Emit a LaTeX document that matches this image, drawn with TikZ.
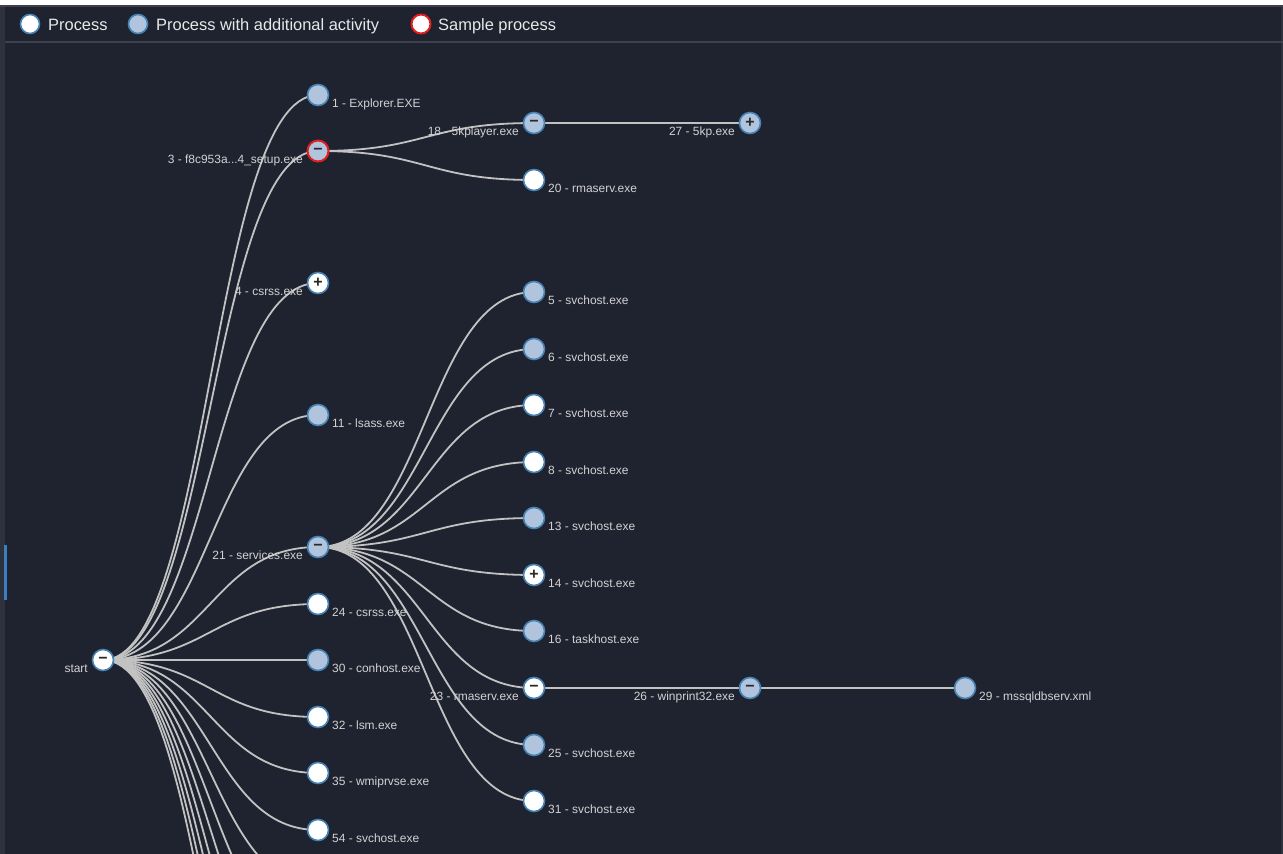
\documentclass[tikz,border=0pt]{standalone}
\usepackage{fontspec}
\setmainfont{Liberation Sans}
\usetikzlibrary{calc}
\definecolor{panel}{HTML}{1F2330}
\definecolor{leftstrip}{HTML}{2D323C}
\definecolor{sepline}{HTML}{3C414C}
\definecolor{edgecol}{HTML}{C2C2C2}
\definecolor{steel}{HTML}{4682B4}
\definecolor{lsteel}{HTML}{B0C4DE}
\definecolor{samplered}{HTML}{E02020}
\definecolor{lbl}{HTML}{D2D2D2}
\definecolor{legtext}{HTML}{E8E8E8}
\definecolor{glyph}{HTML}{2A2A2A}
\definecolor{scrollblue}{HTML}{3A7FC0}
\pgfdeclarelayer{back}
\pgfdeclarelayer{edges}
\pgfsetlayers{back,edges,main}
\newcommand\treeedge[2]{\draw[edge] let \p1=(#1), \p2=(#2) in (\p1) .. controls ({(\x1+\x2)/2},\y1) and ({(\x1+\x2)/2},\y2) .. (\p2);}
\begin{document}
\begin{tikzpicture}[x=1bp,y=-1bp,
  proc/.style={circle, draw=steel, line width=1.6bp, fill=white, minimum size=21bp, inner sep=0pt,
    text=glyph, font=\bfseries\fontsize{16}{16}\selectfont},
  procA/.style={proc, fill=lsteel},
  sample/.style={proc, fill=lsteel, draw=samplered, line width=2bp},
  edge/.style={draw=edgecol, line width=1.8bp},
  lblR/.style={anchor=base west, text=lbl, font=\fontsize{12}{12}\selectfont, inner sep=0pt},
  lblL/.style={anchor=base east, text=lbl, font=\fontsize{12}{12}\selectfont, inner sep=0pt},
  legtxt/.style={anchor=base west, text=legtext, font=\fontsize{16.5}{18}\selectfont, inner sep=0pt}]
\useasboundingbox (0,0) rectangle (1283,854);
\begin{pgfonlayer}{back}
  \fill[white] (0,0) rectangle (1283,854);
  \fill[panel] (0,5) rectangle (1283,854);
  \fill[leftstrip] (0,5) rectangle (5,854);
  \fill[leftstrip] (1281,5) rectangle (1283,854);
  \draw[sepline, line width=2bp] (0,6) -- (1283,6);
  \draw[sepline, line width=2bp] (5,41.5) -- (1283,41.5);
  \fill[scrollblue] (4,545) rectangle (6.5,600);
\end{pgfonlayer}

% legend
\node[proc, minimum size=19bp] (leg1) at (30,24) {};
\node[legtxt] (legt1) at (48,30) {Process};
\node[procA, minimum size=19bp] (leg2) at (138,24) {};
\node[legtxt] (legt2) at (156,30) {Process with additional activity};
\node[proc, draw=samplered, line width=2bp, minimum size=19bp] (leg3) at (421,24) {};
\node[legtxt] (legt3) at (438,30) {Sample process};

% level 0
\node[proc] (start) at (103,660) {−};
% level 1
\node[procA] (n1) at (318,95) {};
\node[sample] (n3) at (318,151) {−};
\node[proc] (n4) at (318,283) {+};
\node[procA] (n11) at (318,415) {};
\node[procA] (n21) at (318,547) {−};
\node[proc] (n24) at (318,604) {};
\node[procA] (n30) at (318,660) {};
\node[proc] (n32) at (318,717) {};
\node[proc] (n35) at (318,773) {};
\node[proc] (n54) at (318,830) {};
\coordinate (h1) at (318,886);
\coordinate (h2) at (318,943);
\coordinate (h3) at (318,999);
\coordinate (h4) at (318,1056);
\coordinate (h5) at (318,1112);
\coordinate (h6) at (318,1169);
\coordinate (h7) at (318,1225);
% level 2
\node[procA] (n18) at (534,123) {−};
\node[proc] (n20) at (534,180) {};
\node[procA] (n5) at (534,292) {};
\node[procA] (n6) at (534,349) {};
\node[proc] (n7) at (534,405) {};
\node[proc] (n8) at (534,462) {};
\node[procA] (n13) at (534,518) {};
\node[proc] (n14) at (534,575) {+};
\node[procA] (n16) at (534,631) {};
\node[proc] (n23) at (534,688) {−};
\node[procA] (n25) at (534,745) {};
\node[proc] (n31) at (534,801) {};
% level 3
\node[procA] (n27) at (750,123) {+};
\node[procA] (n26) at (750,688) {−};
% level 4
\node[procA] (n29) at (965,688) {};

% labels
\node[lblL] (tstart) at ($(start)+(-15,12)$) {start};
\node[lblR] (t1) at ($(n1)+(14,12)$) {1 - Explorer.EXE};
\node[lblL] (t3) at ($(n3)+(-15,12)$) {3 - f8c953a...4\_setup.exe};
\node[lblL] (t4) at ($(n4)+(-15,12)$) {4 - csrss.exe};
\node[lblR] (t11) at ($(n11)+(14,12)$) {11 - lsass.exe};
\node[lblL] (t21) at ($(n21)+(-15,12)$) {21 - services.exe};
\node[lblR] (t24) at ($(n24)+(14,12)$) {24 - csrss.exe};
\node[lblR] (t30) at ($(n30)+(14,12)$) {30 - conhost.exe};
\node[lblR] (t32) at ($(n32)+(14,12)$) {32 - lsm.exe};
\node[lblR] (t35) at ($(n35)+(14,12)$) {35 - wmiprvse.exe};
\node[lblR] (t54) at ($(n54)+(14,12)$) {54 - svchost.exe};
\node[lblL] (t18) at ($(n18)+(-15,12)$) {18 - 5kplayer.exe};
\node[lblR] (t20) at ($(n20)+(14,12)$) {20 - rmaserv.exe};
\node[lblR] (t5) at ($(n5)+(14,12)$) {5 - svchost.exe};
\node[lblR] (t6) at ($(n6)+(14,12)$) {6 - svchost.exe};
\node[lblR] (t7) at ($(n7)+(14,12)$) {7 - svchost.exe};
\node[lblR] (t8) at ($(n8)+(14,12)$) {8 - svchost.exe};
\node[lblR] (t13) at ($(n13)+(14,12)$) {13 - svchost.exe};
\node[lblR] (t14) at ($(n14)+(14,12)$) {14 - svchost.exe};
\node[lblR] (t16) at ($(n16)+(14,12)$) {16 - taskhost.exe};
\node[lblL] (t23) at ($(n23)+(-15,12)$) {23 - rmaserv.exe};
\node[lblR] (t25) at ($(n25)+(14,12)$) {25 - svchost.exe};
\node[lblR] (t31) at ($(n31)+(14,12)$) {31 - svchost.exe};
\node[lblL] (t27) at ($(n27)+(-15,12)$) {27 - 5kp.exe};
\node[lblL] (t26) at ($(n26)+(-15,12)$) {26 - winprint32.exe};
\node[lblR] (t29) at ($(n29)+(14,12)$) {29 - mssqldbserv.xml};

% edges
\begin{pgfonlayer}{edges}
\begin{scope}
\clip (0,42) rectangle (1283,854);
\foreach \a/\b in {start/n1,start/n3,start/n4,start/n11,start/n21,start/n24,start/n30,start/n32,start/n35,start/n54,
  start/h1,start/h2,start/h3,start/h4,start/h5,start/h6,start/h7,
  n3/n18,n3/n20,n18/n27,
  n21/n5,n21/n6,n21/n7,n21/n8,n21/n13,n21/n14,n21/n16,n21/n23,n21/n25,n21/n31,
  n23/n26,n26/n29}{\treeedge{\a}{\b}}
\end{scope}
\end{pgfonlayer}
\end{tikzpicture}
\end{document}
